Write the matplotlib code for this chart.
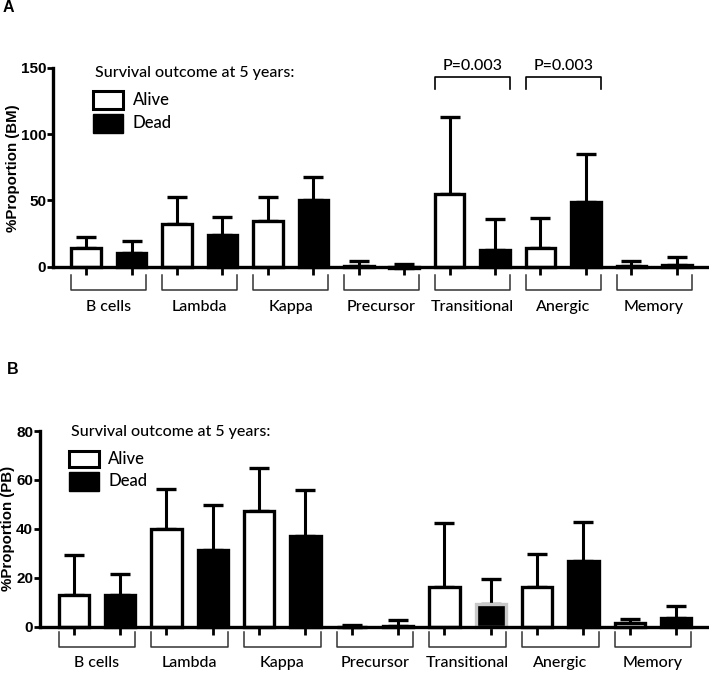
import matplotlib
matplotlib.use("Agg")
import matplotlib.pyplot as plt
from matplotlib.patches import Rectangle
from matplotlib.lines import Line2D
from matplotlib.transforms import ScaledTranslation
import numpy as np

categories = ["B cells", "Lambda", "Kappa", "Precursor", "Transitional", "Anergic", "Memory"]

# Panel A (BM)
bm_alive = [13.9, 32.0, 34.7, 0.5, 54.5, 13.9, 0.8]
bm_alive_err = [8.5, 20.8, 17.6, 4.0, 58.1, 22.6, 3.5]
bm_dead = [10.1, 24.1, 50.0, -1.2, 12.6, 48.5, 1.5]
bm_dead_err = [9.5, 13.4, 17.8, 3.2, 23.1, 36.2, 5.8]
bm_yticks = [0, 50, 100, 150]

# Panel B (PB)
pb_alive = [13.0, 40.0, 47.4, -0.3, 16.4, 16.4, 1.4]
pb_alive_err = [16.3, 16.2, 17.4, 0.8, 25.9, 13.2, 1.7]
pb_dead = [13.0, 31.4, 37.2, 0.3, 9.2, 27.0, 3.7]
pb_dead_err = [8.4, 18.4, 18.7, 2.4, 10.3, 15.7, 4.9]
pb_yticks = [0, 20, 40, 60, 80]

pvals = [("Transitional", "P=0.003"), ("Anergic", "P=0.003")]

W, H = 709, 676
fig = plt.figure(figsize=(W / 100, H / 100), dpi=100)

TICKFONT = dict(family="Liberation Sans", weight="bold")
CATFONT = dict(family="Lato", weight="medium")
BW = 0.65


def fx(x):
    return x / W


def fy(y):
    return 1 - y / H


def draw_panel(rect, alive, alive_err, dead, dead_err, yticks,
               br_top, br_bot, lab_off, grey_edge=None, pv=None):
    ax = fig.add_axes(rect)
    n = len(categories)
    pos_a = np.arange(n) * 2
    pos_d = pos_a + 1
    ymax = yticks[-1]
    ax.set_xlim(-0.73, 13.71)
    ax.set_ylim(0, ymax)
    edges_d = ["black"] * n
    if grey_edge is not None:
        edges_d[grey_edge] = "#c8c8c8"
    ax.bar(pos_a, alive, width=BW, color="white", edgecolor="black",
           linewidth=2.4, clip_on=False, zorder=3)
    ax.bar(pos_d, dead, width=BW, color="black", edgecolor=edges_d,
           linewidth=2.4, clip_on=False, zorder=3)
    for p, m, e in list(zip(pos_a, alive, alive_err)) + list(zip(pos_d, dead, dead_err)):
        ax.errorbar([p], [m], yerr=[[0], [e]], fmt="none", ecolor="black",
                    elinewidth=2.2, capsize=7, capthick=2.4, clip_on=False, zorder=2)
    for s in ["top", "right"]:
        ax.spines[s].set_visible(False)
    ax.spines["left"].set_linewidth(2.4)
    ax.spines["bottom"].set_linewidth(2.4)
    ax.spines["bottom"].set_zorder(4)
    ax.set_yticks(yticks)
    ax.set_yticklabels([str(t) for t in yticks], fontsize=11, **TICKFONT)
    ax.tick_params(axis="y", length=4, width=2, pad=1)
    ax.set_xticks(np.concatenate([pos_a, pos_d]))
    ax.set_xticklabels([])
    ax.tick_params(axis="x", length=5.5, width=2, direction="out")
    trans = ax.get_xaxis_transform()
    inv = fig.transFigure.inverted()
    t1 = trans + ScaledTranslation(0, -br_top / 100, fig.dpi_scale_trans)
    t2 = trans + ScaledTranslation(0, -br_bot / 100, fig.dpi_scale_trans)
    t3 = trans + ScaledTranslation(0, -lab_off / 100, fig.dpi_scale_trans)
    for i, c in enumerate(categories):
        x0 = pos_a[i] - BW / 2
        x1 = pos_d[i] + BW / 2
        pts = inv.transform([t1.transform((x0, 0)), t2.transform((x0, 0)),
                             t2.transform((x1, 0)), t1.transform((x1, 0))])
        fig.add_artist(Line2D(pts[:, 0], pts[:, 1], color="#333333", lw=1.1,
                              transform=fig.transFigure))
        ax.text((x0 + x1) / 2, 0, c, transform=t3, ha="center", va="center",
                fontsize=11.5, **CATFONT)
    if pv:
        for cat, txt, ytop, ytip, ytxt in pv:
            i = categories.index(cat)
            x0 = pos_a[i] - BW / 2
            x1 = pos_d[i] + BW / 2
            ax.plot([x0, x0, x1, x1], [ytip, ytop, ytop, ytip], color="black",
                    lw=1.2, clip_on=False)
            ax.text((x0 + x1) / 2, ytxt, txt, ha="center", va="center",
                    fontsize=11.5, clip_on=False, **CATFONT)
    return ax


# Panel A
axA = draw_panel([fx(53), fy(266.7), (709 - 53) / W, 199 / H],
                 bm_alive, bm_alive_err, bm_dead, bm_dead_err, bm_yticks,
                 8.3, 23.3, 40,
                 pv=[(pvals[0][0], pvals[0][1], 143.2, 133.9, 151.5),
                     (pvals[1][0], pvals[1][1], 143.2, 133.9, 151.5)])
# Panel B
axB = draw_panel([fx(40), fy(626.7), (709 - 40) / W, 195.7 / H],
                 pb_alive, pb_alive_err, pb_dead, pb_dead_err, pb_yticks,
                 5, 20, 36.6, grey_edge=4)

# y labels
fig.text(fx(13), fy(168), "%Proportion (BM)", rotation=90, ha="center", va="center",
         fontsize=10.8, **TICKFONT)
fig.text(fx(8), fy(528), "%Proportion (PB)", rotation=90, ha="center", va="center",
         fontsize=10.8, **TICKFONT)

# panel letters
fig.text(fx(3), fy(8), "A", ha="left", va="center", fontsize=11.5, **TICKFONT)
fig.text(fx(7), fy(370), "B", ha="left", va="center", fontsize=11.5, **TICKFONT)


def legend(tx, ty, bx0, bx1, a_y0, a_y1, d_y0, d_y1, lx):
    fig.text(fx(tx), fy(ty), "Survival outcome at 5 years:", ha="left", va="center",
             fontsize=11.5, **CATFONT)
    fig.add_artist(Rectangle((fx(bx0), fy(a_y1)), (bx1 - bx0) / W, (a_y1 - a_y0) / H,
                             facecolor="white", edgecolor="black", lw=2.2,
                             transform=fig.transFigure))
    fig.add_artist(Rectangle((fx(bx0), fy(d_y1)), (bx1 - bx0) / W, (d_y1 - d_y0) / H,
                             facecolor="black", edgecolor="black", lw=1,
                             transform=fig.transFigure))
    fig.text(fx(lx), fy((a_y0 + a_y1) / 2), "Alive", ha="left", va="center",
             fontsize=12, **CATFONT)
    fig.text(fx(lx), fy((d_y0 + d_y1) / 2), "Dead", ha="left", va="center",
             fontsize=12, **CATFONT)


legend(95, 73, 93, 123, 91, 109, 114, 133, 133)
legend(70.7, 431.7, 69, 99, 451, 467, 472, 490.5, 108)

fig.savefig("out.png", dpi=100)
